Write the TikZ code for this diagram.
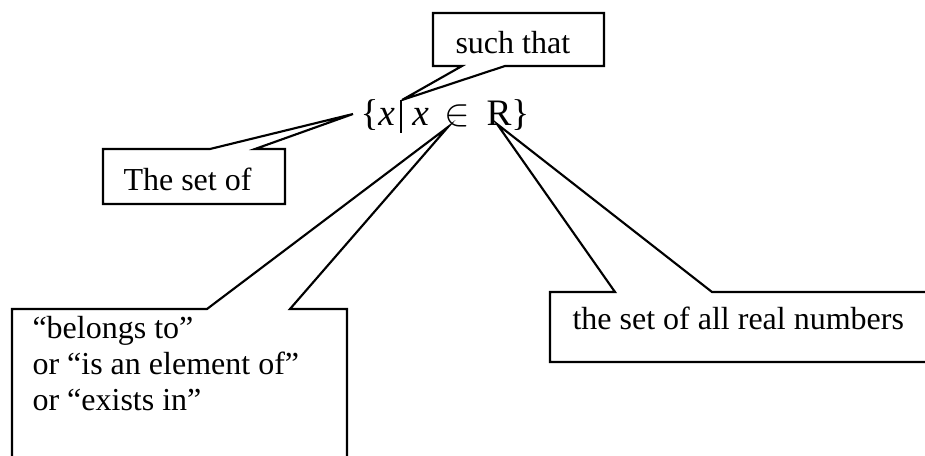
\documentclass[tikz,border=0pt]{standalone}
\usepackage{fontspec}
\setmainfont{Liberation Serif}
\usetikzlibrary{positioning}

\begin{document}
\begin{tikzpicture}[
    x=0.375pt,y=-0.375pt,
    lbl/.style={anchor=base west,inner sep=0pt,font=\fontsize{12}{13.5}\selectfont},
    frm/.style={anchor=base west,inner sep=0pt,font=\fontsize{14}{16}\selectfont},
    balloon/.style={draw,line width=0.8pt,line join=miter},
  ]
    \clip (0,0) rectangle (925,456);
    % the set expression and the points the balloons aim at
    \node[frm] (set) at (360,126)
      {\{\textit{x}\hspace{2pt}\rule[-2.6pt]{0.5pt}{12.4pt}\hspace{4pt}\textit{x}\hspace{6pt}$\in$\hspace{6pt}R\}};
    \coordinate (tipof) at (353,114);
    \coordinate (tipst) at (402,100);
    \coordinate (tipin) at (448,127);
    \coordinate (tipr) at (497,124);
    % texts
    \node[lbl] (suchthat) at (455,54) {such that};
    \node[lbl] (setof) at (123,190) {The set of};
    \node[lbl,anchor=north west,align=left] (belongs) at (32,316)
      {``belongs to''\\or ``is an element of''\\or ``exists in''};
    \node[lbl] (reals) at (572,329) {the set of all real numbers};
    % balloons
    \draw[balloon] (433,66) -- (462,66) -- (tipst) -- (505,66)
      -- (604,66) -- (604,13) -- (433,13) -- cycle;
    \draw[balloon] (103,149) -- (210,149) -- (tipof) -- (255,149)
      -- (285,149) -- (285,204) -- (103,204) -- cycle;
    \draw[balloon] (12,309) -- (207,309) -- (tipin) -- (290,309)
      -- (347,309) -- (347,480) -- (12,480) -- cycle;
    \draw[balloon] (550,292) -- (615,292) -- (tipr) -- (712,292)
      -- (960,292) -- (960,362) -- (550,362) -- cycle;
  \end{tikzpicture}
\end{document}
